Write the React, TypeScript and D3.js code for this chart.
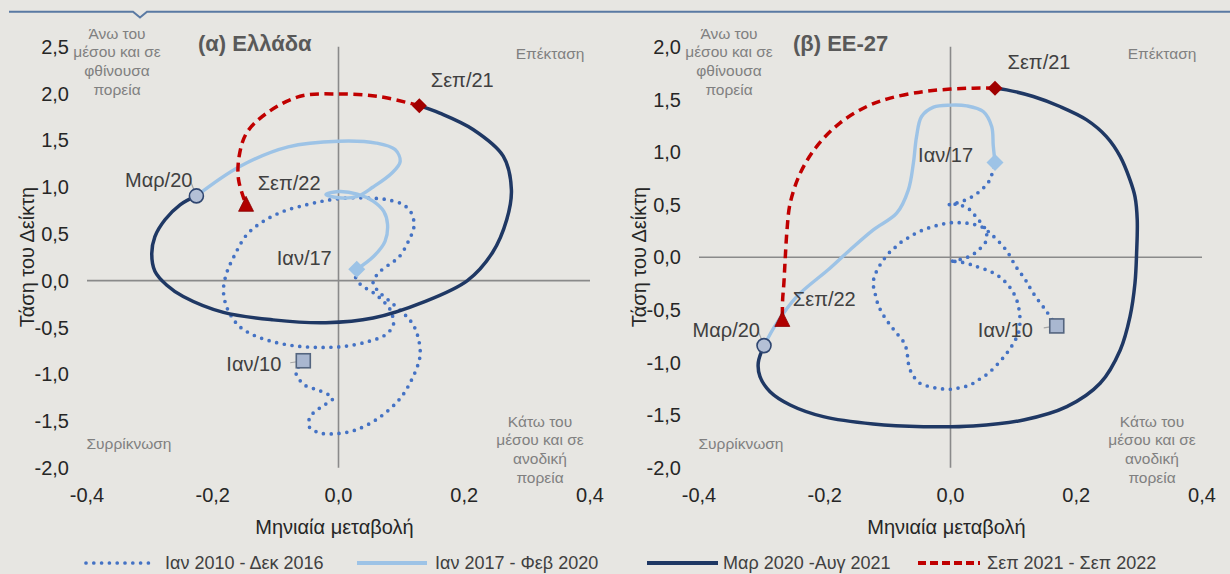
import React from 'react';
import * as d3 from 'd3';

type P = [number, number];

// ---- data ----
const xTicks = [-0.4, -0.2, 0, 0.2, 0.4];
const grYTicks = [-2, -1.5, -1, -0.5, 0, 0.5, 1, 1.5, 2, 2.5];
const euYTicks = [-2, -1.5, -1, -0.5, 0, 0.5, 1, 1.5, 2];
const legendLabels = ['Ιαν 2010 - Δεκ 2016', 'Ιαν 2017 - Φεβ 2020', 'Μαρ 2020 -Αυγ 2021', 'Σεπ 2021 - Σεπ 2022'];
const pointLabels = ['Ιαν/10', 'Ιαν/17', 'Μαρ/20', 'Σεπ/21', 'Σεπ/22'];
const quadrantLabels = {
  upperLeft: ['Άνω του', 'μέσου και σε', 'φθίνουσα', 'πορεία'],
  upperRight: ['Επέκταση'],
  lowerLeft: ['Συρρίκνωση'],
  lowerRight: ['Κάτω του', 'μέσου και σε', 'ανοδική', 'πορεία'],
};

// Greece
const grDotted: P[] = [
  [-0.056, -0.857], [-0.0676, -0.986], [-0.0533, -1.118], [-0.029, -1.179], [-0.0092, -1.26], [-0.029, -1.357],
  [-0.0453, -1.458], [-0.0464, -1.565], [-0.029, -1.629], [-0.003, -1.636], [0.029, -1.593], [0.066, -1.458],
  [0.098, -1.26], [0.116, -1.064], [0.127, -0.885], [0.13, -0.778], [0.127, -0.617], [0.119, -0.475],
  [0.105, -0.36], [0.085, -0.24], [0.066, -0.13], [0.055, -0.03], [0.062, 0.07], [0.08, 0.17], [0.096, 0.25],
  [0.111, 0.418], [0.12, 0.579], [0.116, 0.722], [0.103, 0.811], [0.077, 0.865], [0.045, 0.883], [0.013, 0.883],
  [-0.019, 0.857], [-0.0506, 0.811], [-0.0878, 0.74], [-0.12, 0.632], [-0.146, 0.49], [-0.165, 0.275],
  [-0.178, 0.079], [-0.183, -0.1], [-0.179, -0.26], [-0.17, -0.386], [-0.157, -0.493], [-0.1355, -0.582],
  [-0.104, -0.654], [-0.0665, -0.7], [-0.0267, -0.714], [0.013, -0.7], [0.05, -0.646], [0.074, -0.582],
  [0.087, -0.48], [0.086, -0.378], [0.081, -0.296], [0.072, -0.225], [0.063, -0.17], [0.053, -0.118],
  [0.042, -0.075], [0.033, -0.028], [0.025, 0.06],
];
const grLight: P[] = [
  [0.029, 0.12], [0.056, 0.26], [0.074, 0.42], [0.078, 0.6], [0.072, 0.74], [0.055, 0.85], [0.03, 0.925],
  [0.0, 0.952], [-0.02, 0.92], [0.0, 0.885], [0.03, 0.9], [0.055, 1.0], [0.085, 1.15], [0.098, 1.27],
  [0.09, 1.4], [0.06, 1.47], [0.0, 1.49], [-0.08, 1.43], [-0.157, 1.22], [-0.226, 0.905],
];
const grNavy: P[] = [
  [-0.226, 0.905], [-0.252, 0.81], [-0.276, 0.65], [-0.292, 0.47], [-0.297, 0.29], [-0.292, 0.1],
  [-0.273, -0.05], [-0.247, -0.17], [-0.183, -0.34], [-0.104, -0.42], [-0.02, -0.45], [0.055, -0.4],
  [0.135, -0.23], [0.205, 0.0], [0.245, 0.3], [0.2675, 0.65], [0.275, 0.97], [0.262, 1.33], [0.214, 1.615],
  [0.161, 1.79], [0.1285, 1.87],
];
const grRed: P[] = [
  [0.1285, 1.87], [0.066, 1.965], [0.0, 1.995], [-0.061, 1.97], [-0.114, 1.79], [-0.146, 1.58],
  [-0.158, 1.33], [-0.159, 1.08], [-0.147, 0.81],
];

// EU-27
const euDotted: P[] = [
  [0.169, -0.653], [0.153, -0.517], [0.1317, -0.342], [0.1185, -0.209], [0.104, -0.089], [0.0903, 0.053],
  [0.0744, 0.164], [0.0628, 0.228], [0.0549, 0.272], [0.0442, 0.3], [0.032, 0.319], [0.0194, 0.326],
  [0.007, 0.329], [-0.006, 0.323], [-0.018, 0.307], [-0.031, 0.285], [-0.043, 0.26], [-0.055, 0.228],
  [-0.0655, 0.19], [-0.076, 0.155], [-0.0867, 0.1], [-0.096, 0.053], [-0.112, -0.073], [-0.12, -0.168],
  [-0.123, -0.247], [-0.12, -0.342], [-0.115, -0.453], [-0.107, -0.548], [-0.096, -0.644], [-0.0856, -0.722],
  [-0.075, -0.802], [-0.0697, -0.881], [-0.067, -1.008], [-0.0617, -1.103], [-0.0485, -1.198],
  [-0.0326, -1.23], [-0.0167, -1.249], [-0.0008, -1.255], [0.015, -1.24], [0.031, -1.214], [0.0442, -1.166],
  [0.06, -1.103], [0.076, -1.008], [0.0894, -0.913], [0.1, -0.818], [0.108, -0.722], [0.1105, -0.612],
  [0.1095, -0.517], [0.1053, -0.406], [0.0973, -0.311], [0.0867, -0.232], [0.0735, -0.168], [0.0576, -0.121],
  [0.0417, -0.089], [0.0337, -0.073], [0.0204, -0.051], [0.007, -0.04], [-0.001, -0.042], [0.0124, -0.026],
  [0.0258, -0.003], [0.0363, 0.028], [0.0458, 0.076], [0.0549, 0.133], [0.0576, 0.202], [0.056, 0.26],
  [0.0469, 0.338], [0.039, 0.396], [0.031, 0.45], [0.0194, 0.488], [0.0088, 0.504], [-0.0035, 0.497],
  [0.0088, 0.513], [0.0204, 0.535], [0.032, 0.567], [0.0427, 0.608], [0.052, 0.656], [0.06, 0.709],
  [0.0655, 0.782], [0.0708, 0.9],
];
const euLight: P[] = [
  [0.0708, 0.9], [0.068, 1.06], [0.0655, 1.241], [0.052, 1.384], [0.0258, 1.438], [0.0, 1.445],
  [-0.027, 1.426], [-0.046, 1.337], [-0.054, 1.146], [-0.059, 0.894], [-0.067, 0.64], [-0.0856, 0.418],
  [-0.1228, 0.26], [-0.16, 0.069], [-0.1917, -0.105], [-0.2446, -0.374], [-0.2764, -0.627], [-0.2966, -0.84],
];
const euNavy: P[] = [
  [-0.2966, -0.84], [-0.3057, -1.0], [-0.303, -1.135], [-0.287, -1.278], [-0.255, -1.404], [-0.2023, -1.515],
  [-0.123, -1.585], [-0.043, -1.61], [0.036, -1.604], [0.116, -1.547], [0.185, -1.42], [0.238, -1.198],
  [0.27, -0.881], [0.2855, -0.565], [0.2934, -0.247], [0.296, 0.04], [0.297, 0.355], [0.2934, 0.576],
  [0.2855, 0.735], [0.27, 0.956], [0.248, 1.146], [0.2166, 1.305], [0.174, 1.432], [0.1317, 1.527],
  [0.0894, 1.59], [0.0708, 1.606],
];
const euRed: P[] = [
  [0.0708, 1.606], [0.0363, 1.606], [0.0, 1.597], [-0.043, 1.574], [-0.096, 1.511], [-0.133, 1.432],
  [-0.176, 1.274], [-0.213, 1.051], [-0.239, 0.798], [-0.255, 0.513], [-0.26, 0.26], [-0.263, -0.026],
  [-0.265, -0.247], [-0.267, -0.406], [-0.2675, -0.596],
];

// ---- style ----
const FONT = '"Liberation Sans", Arial, sans-serif';
const C_DOT = '#4472c4';
const C_LIGHT = '#9dc3e6';
const C_NAVY = '#1f3864';
const C_RED = '#c00000';
const BG = '#e7e6e2';

const fmt = d3.formatLocale({ decimal: ',', thousands: '.', grouping: [3], currency: ['', '€'], minus: '-' }).format('.1f');

type LabelOff = { dx: number; dy: number; anchor: string };
type PanelCfg = {
  x0: number; x1: number; yDomain: [number, number]; yTicks: number[];
  title: string; titleX: number;
  dotted: P[]; light: P[]; navy: P[]; red: P[];
  off: LabelOff[];
};

const TOP = 46.7, BOTTOM = 467.7;

function Panel({ cfg }: { cfg: PanelCfg }) {
  const xs = d3.scaleLinear().domain([-0.4, 0.4]).range([cfg.x0, cfg.x1]);
  const ys = d3.scaleLinear().domain(cfg.yDomain).range([BOTTOM, TOP]);
  const line = d3.line<P>().x(d => xs(d[0])).y(d => ys(d[1])).curve(d3.curveCatmullRom.alpha(0.5));
  const cx = (cfg.x0 + cfg.x1) / 2;
  const pts: P[] = [cfg.dotted[0], cfg.light[0], cfg.navy[0], cfg.red[0], cfg.red[cfg.red.length - 1]];
  const px = pts.map(p => [xs(p[0]), ys(p[1])]);
  const qColor = '#808080';
  return (
    <g>
      <line x1={xs(-0.4)} x2={xs(0.4)} y1={ys(0)} y2={ys(0)} stroke="#8a8a8a" strokeWidth={1.6} />
      <line x1={xs(0)} x2={xs(0)} y1={ys(cfg.yDomain[0])} y2={ys(cfg.yDomain[1])} stroke="#8a8a8a" strokeWidth={1.6} />
      {cfg.yTicks.map(t => (
        <text key={'y' + t} x={cfg.x0 - 18} y={ys(t)} dy="0.36em" textAnchor="end" fontSize={20} fill="#262626">{fmt(t)}</text>
      ))}
      {xTicks.map(t => (
        <text key={'x' + t} x={xs(t)} y={495} dy="0.36em" textAnchor="middle" fontSize={20} fill="#262626">{fmt(t)}</text>
      ))}
      <text x={cx - 4} y={527} dy="0.36em" textAnchor="middle" fontSize={20} fill="#262626">Μηνιαία μεταβολή</text>
      <text transform={`translate(${cfg.x0 - 60},257) rotate(-90)`} dy="0.36em" textAnchor="middle" fontSize={20} fill="#262626">Τάση του Δείκτη</text>
      <text x={cfg.titleX} y={43} dy="0.36em" fontSize={22} fontWeight="bold" fill="#595959">{cfg.title}</text>
      {quadrantLabels.upperLeft.map((s, i) => (
        <text key={'ul' + i} x={cfg.x0 + 30} y={33 + i * 18.7} dy="0.36em" textAnchor="middle" fontSize={15.5} fill={qColor}>{s}</text>
      ))}
      {quadrantLabels.upperRight.map((s, i) => (
        <text key={'ur' + i} x={cfg.x1 - 40} y={53} dy="0.36em" textAnchor="middle" fontSize={15.5} fill={qColor}>{s}</text>
      ))}
      {quadrantLabels.lowerLeft.map((s, i) => (
        <text key={'ll' + i} x={cfg.x0 + 42} y={443} dy="0.36em" textAnchor="middle" fontSize={15.5} fill={qColor}>{s}</text>
      ))}
      {quadrantLabels.lowerRight.map((s, i) => (
        <text key={'lr' + i} x={cfg.x1 - 50} y={421 + i * 18.7} dy="0.36em" textAnchor="middle" fontSize={15.5} fill={qColor}>{s}</text>
      ))}
      <path d={line(cfg.dotted) || ''} fill="none" stroke={C_DOT} strokeWidth={3.7} strokeDasharray="0 7.8" strokeLinecap="round" />
      <path d={line(cfg.light) || ''} fill="none" stroke={C_LIGHT} strokeWidth={3.4} />
      <path d={line(cfg.navy) || ''} fill="none" stroke={C_NAVY} strokeWidth={3.5} />
      <path d={line(cfg.red) || ''} fill="none" stroke={C_RED} strokeWidth={3.5} strokeDasharray="9 5.5" />
      <line x1={px[0][0] - 13} y1={px[0][1] + 2} x2={px[0][0]} y2={px[0][1]} stroke="#a6a6a6" strokeWidth={1.2} />
      <line x1={px[2][0] - 6} y1={px[2][1] - 15} x2={px[2][0]} y2={px[2][1]} stroke="#a6a6a6" strokeWidth={1.2} />
      <rect x={px[0][0] - 7} y={px[0][1] - 7} width={14} height={14} fill="#a9b7d0" stroke="#54657f" strokeWidth={1.6} />
      <polygon points={`${px[1][0]},${px[1][1] - 8.5} ${px[1][0] + 8.5},${px[1][1]} ${px[1][0]},${px[1][1] + 8.5} ${px[1][0] - 8.5},${px[1][1]}`} fill={C_LIGHT} />
      <circle cx={px[2][0]} cy={px[2][1]} r={7} fill="#b4c0d6" stroke="#2f4670" strokeWidth={1.6} />
      <polygon points={`${px[3][0]},${px[3][1] - 7.5} ${px[3][0] + 7.5},${px[3][1]} ${px[3][0]},${px[3][1] + 7.5} ${px[3][0] - 7.5},${px[3][1]}`} fill="#a00000" />
      <polygon points={`${px[4][0]},${px[4][1] - 8.5} ${px[4][0] + 7.5},${px[4][1] + 6.5} ${px[4][0] - 7.5},${px[4][1] + 6.5}`} fill="#b00000" stroke="#8a0000" strokeWidth={0.8} />
      {pointLabels.map((s, i) => (
        <text key={'pl' + i} x={px[i][0] + cfg.off[i].dx} y={px[i][1] + cfg.off[i].dy} dy="0.36em" textAnchor={cfg.off[i].anchor as any} fontSize={20} fill="#404040">{s}</text>
      ))}
    </g>
  );
}

const grCfg: PanelCfg = {
  x0: 87, x1: 590, yDomain: [-2, 2.5], yTicks: grYTicks, title: '(α) Ελλάδα', titleX: 198,
  dotted: grDotted, light: grLight, navy: grNavy, red: grRed,
  off: [
    { dx: -22, dy: 3, anchor: 'end' },
    { dx: -25, dy: -12, anchor: 'end' },
    { dx: -4, dy: -16, anchor: 'end' },
    { dx: 43, dy: -26, anchor: 'middle' },
    { dx: 43, dy: -22, anchor: 'middle' },
  ],
};
const euCfg: PanelCfg = {
  x0: 699, x1: 1202, yDomain: [-2, 2], yTicks: euYTicks, title: '(β) ΕΕ-27', titleX: 793,
  dotted: euDotted, light: euLight, navy: euNavy, red: euRed,
  off: [
    { dx: -24, dy: 4, anchor: 'end' },
    { dx: -22, dy: -8, anchor: 'end' },
    { dx: -4, dy: -16, anchor: 'end' },
    { dx: 44, dy: -26, anchor: 'middle' },
    { dx: 42, dy: -21, anchor: 'middle' },
  ],
};

function Legend() {
  const items = [
    { x1: 86, x2: 153, tx: 165, color: C_DOT, dash: '0 7.8', cap: 'round', w: 3.7 },
    { x1: 357, x2: 427, tx: 435, color: C_LIGHT, dash: undefined, cap: 'butt', w: 4 },
    { x1: 647, x2: 718, tx: 723, color: C_NAVY, dash: undefined, cap: 'butt', w: 4 },
    { x1: 918, x2: 980, tx: 987, color: C_RED, dash: '8 4', cap: 'butt', w: 4 },
  ];
  return (
    <g>
      {items.map((it, i) => (
        <g key={i}>
          <line x1={it.x1} x2={it.x2} y1={563} y2={563} stroke={it.color} strokeWidth={it.w} strokeDasharray={it.dash} strokeLinecap={it.cap as any} />
          <text x={it.tx} y={563} dy="0.36em" fontSize={18} fill="#404040">{legendLabels[i]}</text>
        </g>
      ))}
    </g>
  );
}

export default function App() {
  return (
    <svg width={1230} height={574} style={{ position: 'absolute', left: 0, top: 0, fontFamily: FONT }}>
      <rect x={0} y={0} width={1230} height={574} fill={BG} />
      <path d="M9,11.7 L133,11.7 L140,17.5 L147,11.7 L1230,11.7" fill="none" stroke="#5a7aa3" strokeWidth={2} />
      <Panel cfg={grCfg} />
      <Panel cfg={euCfg} />
      <Legend />
    </svg>
  );
}
